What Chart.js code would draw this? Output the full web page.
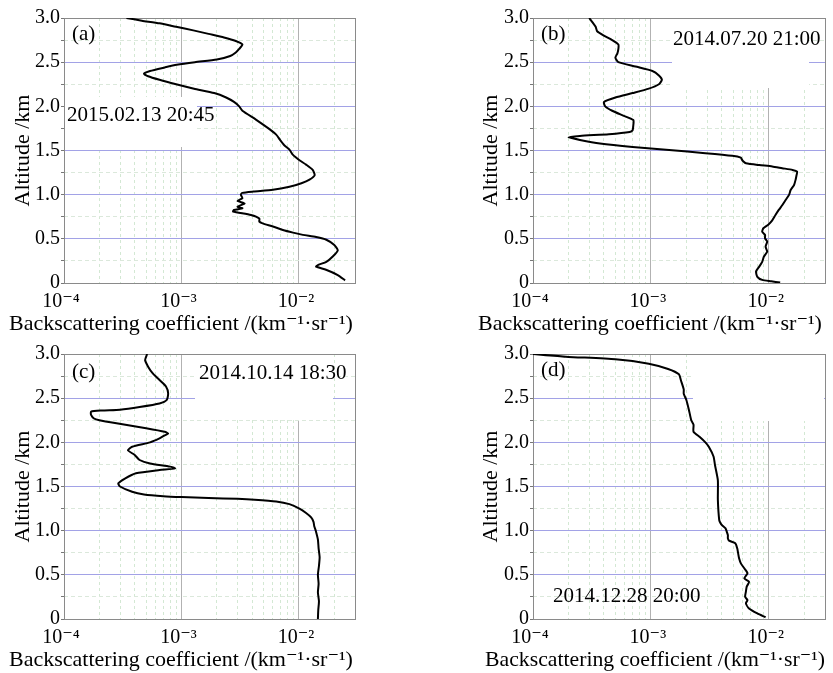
<!DOCTYPE html>
<html>
<head>
<meta charset="utf-8">
<script src="https://cdn.jsdelivr.net/npm/chart.js@4/dist/chart.umd.min.js"></script>
<style>
  html, body { margin: 0; padding: 0; background: #fff; }
  #wrap { position: relative; width: 833px; height: 673px; background: #fff; }
  #wrap canvas { position: absolute; }
</style>
</head>
<body>
<div id="wrap">
  <canvas id="pa" width="416" height="336" style="left:0;top:0"></canvas>
  <canvas id="pb" width="417" height="336" style="left:416px;top:0"></canvas>
  <canvas id="pc" width="416" height="337" style="left:0;top:336px"></canvas>
  <canvas id="pd" width="417" height="337" style="left:416px;top:336px"></canvas>
</div>
<script>
// altitude (km) and backscattering coefficient (km^-1 sr^-1)
const altA = [0.03, 0.09, 0.15, 0.185, 0.205, 0.24, 0.30, 0.37, 0.43, 0.49, 0.52, 0.545, 0.57, 0.60, 0.64, 0.675, 0.695, 0.73, 0.77, 0.81, 0.826, 0.845, 0.865, 0.90, 0.93, 0.96, 1.00, 1.02, 1.035, 1.055, 1.09, 1.13, 1.17, 1.22, 1.28, 1.34, 1.39, 1.45, 1.51, 1.56, 1.62, 1.68, 1.75, 1.85, 1.95, 2.00, 2.05, 2.10, 2.15, 2.20, 2.25, 2.30, 2.34, 2.37, 2.40, 2.44, 2.47, 2.50, 2.53, 2.57, 2.61, 2.65, 2.70, 2.74, 2.78, 2.82, 2.86, 2.90, 2.94, 2.97, 3.00];
const betaA = [0.0247, 0.0214, 0.0170, 0.0140, 0.0146, 0.0171, 0.0194, 0.0214, 0.0200, 0.0171, 0.0140, 0.0108, 0.0089, 0.0073, 0.0060, 0.0049, 0.0046, 0.0046, 0.0039, 0.00275, 0.0028, 0.0033, 0.0030, 0.00345, 0.0030, 0.0033, 0.0032, 0.0033, 0.0041, 0.0060, 0.0083, 0.0105, 0.0123, 0.0136, 0.0131, 0.0115, 0.0101, 0.0089, 0.0083, 0.0075, 0.0069, 0.0064, 0.0055, 0.0043, 0.0033, 0.0031, 0.0028, 0.0024, 0.0019, 0.00128, 0.00090, 0.00065, 0.00052, 0.00048, 0.00054, 0.00072, 0.00091, 0.0013, 0.0020, 0.0026, 0.0029, 0.0031, 0.0033, 0.0029, 0.0023, 0.0017, 0.00126, 0.00090, 0.00065, 0.00046, 0.00034];

const altB = [0.005, 0.02, 0.035, 0.07, 0.13, 0.185, 0.24, 0.30, 0.355, 0.41, 0.47, 0.505, 0.545, 0.58, 0.62, 0.66, 0.71, 0.77, 0.83, 0.88, 0.94, 1.00, 1.05, 1.11, 1.17, 1.22, 1.26, 1.28, 1.30, 1.32, 1.335, 1.355, 1.375, 1.40, 1.42, 1.44, 1.47, 1.505, 1.54, 1.58, 1.62, 1.65, 1.665, 1.685, 1.71, 1.73, 1.79, 1.845, 1.90, 1.95, 2.00, 2.05, 2.10, 2.15, 2.20, 2.25, 2.30, 2.35, 2.40, 2.45, 2.50, 2.55, 2.60, 2.65, 2.70, 2.75, 2.80, 2.85, 2.90, 2.95, 3.00];
const betaB = [0.0125, 0.0105, 0.0088, 0.0080, 0.0078, 0.0083, 0.0088, 0.0091, 0.0097, 0.0094, 0.0097, 0.0093, 0.0093, 0.0088, 0.0090, 0.0099, 0.0107, 0.0114, 0.0122, 0.0130, 0.0139, 0.0149, 0.0153, 0.0164, 0.0169, 0.0172, 0.0174, 0.0159, 0.0130, 0.0107, 0.0083, 0.0064, 0.0061, 0.0059, 0.0058, 0.0049, 0.0029, 0.00143, 0.00070, 0.00037, 0.00025, 0.00020, 0.00025, 0.00044, 0.00066, 0.00070, 0.00071, 0.00071, 0.00057, 0.00047, 0.00041, 0.00040, 0.00050, 0.00070, 0.00096, 0.00117, 0.00124, 0.00117, 0.00103, 0.00074, 0.00053, 0.00050, 0.00052, 0.00053, 0.00053, 0.00047, 0.00040, 0.00035, 0.00034, 0.00032, 0.00030];

const altC = [0.0, 0.1, 0.2, 0.3, 0.4, 0.5, 0.6, 0.7, 0.8, 0.9, 1.0, 1.05, 1.1, 1.15, 1.2, 1.25, 1.30, 1.33, 1.35, 1.36, 1.37, 1.38, 1.39, 1.41, 1.44, 1.50, 1.536, 1.59, 1.65, 1.687, 1.705, 1.725, 1.76, 1.80, 1.857, 1.91, 1.95, 2.00, 2.045, 2.07, 2.10, 2.12, 2.16, 2.215, 2.25, 2.27, 2.31, 2.347, 2.36, 2.37, 2.40, 2.44, 2.48, 2.555, 2.63, 2.705, 2.78, 2.857, 2.93, 3.00];
const betaC = [0.0145, 0.0146, 0.0148, 0.0145, 0.0147, 0.0145, 0.0148, 0.0150, 0.0147, 0.0145, 0.0139, 0.0135, 0.0133, 0.0127, 0.0115, 0.0101, 0.0083, 0.0064, 0.0042, 0.0030, 0.0017, 0.0010, 0.0007, 0.00048, 0.00038, 0.00030, 0.00029, 0.00033, 0.00041, 0.00065, 0.00088, 0.00080, 0.00054, 0.00044, 0.00040, 0.00035, 0.00038, 0.00054, 0.00065, 0.00070, 0.00077, 0.00072, 0.00050, 0.00028, 0.00020, 0.00018, 0.00017, 0.00017, 0.00021, 0.00030, 0.00044, 0.00065, 0.00075, 0.00077, 0.00074, 0.00065, 0.00057, 0.00052, 0.00049, 0.00051];

const altD = [0.02, 0.064, 0.12, 0.177, 0.215, 0.25, 0.31, 0.366, 0.42, 0.46, 0.517, 0.574, 0.63, 0.687, 0.743, 0.80, 0.857, 0.887, 0.913, 0.95, 0.99, 1.026, 1.064, 1.083, 1.12, 1.35, 1.57, 1.74, 1.84, 1.95, 2.00, 2.06, 2.12, 2.20, 2.25, 2.37, 2.48, 2.55, 2.60, 2.70, 2.77, 2.83, 2.89, 2.94, 2.97, 3.00];
const betaD = [0.0094, 0.0080, 0.0068, 0.0064, 0.0066, 0.0063, 0.0064, 0.0065, 0.0068, 0.0062, 0.0066, 0.0062, 0.0058, 0.0056, 0.0055, 0.0054, 0.0052, 0.0046, 0.0045, 0.0045, 0.0044, 0.0043, 0.0040, 0.0039, 0.0038, 0.0037, 0.0037, 0.0035, 0.0034, 0.0031, 0.0029, 0.0026, 0.0023, 0.0023, 0.0022, 0.0021, 0.0020, 0.0019, 0.0019, 0.00180, 0.00173, 0.0014, 0.00096, 0.00050, 0.00019, 0.0001];

const panelTags = ['(a)', '(b)', '(c)', '(d)'];
const panelDates = ['2015.02.13 20:45', '2014.07.20 21:00', '2014.10.14 18:30', '2014.12.28 20:00'];

const decadeTicks = [1e-4, 1e-3, 1e-2];
const decadeLabels = ['10\u207B\u2074', '10\u207B\u00B3', '10\u207B\u00B2'];
const mantissas = [1, 2, 3, 4, 5, 6, 7, 8, 9];
const xMin = 1e-4, xMax = 3e-2;
const yMin = 0, yMax = 3, yStep = 0.25;

const X_TITLE = 'Backscattering coefficient /(km\u207B\u00B9\u00B7sr\u207B\u00B9)';
const Y_TITLE = 'Altitude /km';

const SERIF = "'Liberation Serif', 'DejaVu Serif', serif";
Chart.defaults.font.family = SERIF;
Chart.defaults.color = '#000';

// per-panel placement (canvas pixels)
const layouts = [
  { pad: { left: 7, right: 61, top: 18, bottom: 0.6 }, yW: 57, yTitlePad: 5,
    tag: [72, 34], date: [67, 115], box: [65, 97, 132, 50] },
  { pad: { left: 59, right: 8, top: 18, bottom: 0.6 }, yW: 58, yTitlePad: 5,
    tag: [125, 34], date: [257, 39], box: [256, 19, 137, 69] },
  { pad: { left: 7, right: 61, top: 18, bottom: 1.6 }, yW: 57, yTitlePad: 5,
    tag: [72, 36], date: [199, 37.5], box: [195, 19, 138, 65] },
  { pad: { left: 69, right: 8, top: 18, bottom: 1.6 }, yW: 48, yTitlePad: -5,
    tag: [125, 34], date: [137, 260], box: [277, 19, 131, 66] },
];

const xTickValues = [];
decadeTicks.forEach(d => mantissas.forEach(m => {
  const v = m * d;
  if (v <= xMax * 1.0001) xTickValues.push(v);
}));

function isDecade(v) {
  const e = Math.log10(v);
  return Math.abs(e - Math.round(e)) < 1e-6;
}

function isHalf(v) {
  return Math.abs(v * 2 - Math.round(v * 2)) < 1e-6;
}

const panelDeco = {
  id: 'panelDeco',
  beforeDatasetsDraw(chart, args, opts) {
    const { ctx, chartArea: a } = chart;
    ctx.save();
    if (opts.box) {
      ctx.fillStyle = '#fff';
      ctx.fillRect(opts.box[0], opts.box[1], opts.box[2], opts.box[3]);
    }
    ctx.strokeStyle = '#8a8a8a';
    ctx.lineWidth = 1;
    ctx.strokeRect(Math.round(a.left) + 0.5, Math.round(a.top) + 0.5,
      Math.round(a.right - a.left), Math.round(a.bottom - a.top));
    ctx.restore();
  },
  afterDatasetsDraw(chart, args, opts) {
    const { ctx } = chart;
    ctx.save();
    ctx.fillStyle = '#000';
    ctx.font = '21px ' + SERIF;
    ctx.textBaseline = 'middle';
    ctx.textAlign = 'left';
    ctx.fillText(opts.tagText, opts.tag[0], opts.tag[1]);
    ctx.fillText(opts.dateText, opts.date[0], opts.date[1]);
    ctx.restore();
  }
};

function makeChart(canvasId, alt, beta, idx) {
  const L = layouts[idx];
  const points = alt.map((h, i) => ({ x: beta[i], y: h }));
  return new Chart(document.getElementById(canvasId), {
    type: 'scatter',
    data: {
      datasets: [{
        data: points,
        showLine: true,
        borderColor: '#000',
        borderWidth: 2,
        pointRadius: 0,
        tension: 0.2,
        fill: false,
      }],
    },
    options: {
      responsive: false,
      animation: false,
      layout: { padding: L.pad },
      scales: {
        x: {
          type: 'logarithmic',
          min: xMin,
          max: xMax,
          afterBuildTicks: s => { s.ticks = xTickValues.map(v => ({ value: v })); },
          afterFit: s => { s.height = 28; },
          ticks: {
            autoSkip: false,
            maxRotation: 0,
            padding: 7,
            labelOffset: -3,
            font: { size: 20 },
            callback: v => {
              const k = decadeTicks.findIndex(d => Math.abs(d - v) / d < 1e-6);
              return k >= 0 ? decadeLabels[k] : '';
            },
          },
          grid: {
            drawTicks: false,
            color: c => (c.tick && isDecade(c.tick.value)) ? '#b2b2b2' : '#d3e8d3',
          },
          border: {
            display: false,
            dash: c => (c.tick && !isDecade(c.tick.value)) ? [3, 3] : [],
          },
        },
        y: {
          min: yMin,
          max: yMax,
          afterFit: s => { s.width = L.yW; },
          ticks: {
            stepSize: yStep,
            autoSkip: false,
            padding: 1,
            font: { size: 20 },
            callback: v => v === 0 ? '0' : (isHalf(v) ? v.toFixed(1) : ''),
          },
          grid: {
            drawTicks: true,
            tickLength: 3,
            tickColor: '#777',
            color: c => (c.tick && isHalf(c.tick.value)) ? '#a2a2e6' : '#dbe8db',
          },
          border: {
            display: false,
            dash: c => (c.tick && !isHalf(c.tick.value)) ? [4, 3] : [],
          },
          title: {
            display: true,
            text: Y_TITLE,
            font: { size: 22, lineHeight: 1.0 },
            padding: { top: L.yTitlePad, bottom: 0 },
          },
        },
      },
      plugins: {
        legend: { display: false },
        tooltip: { enabled: false },
        title: {
          display: true,
          position: 'bottom',
          text: X_TITLE,
          font: { size: 22, lineHeight: 1.0, weight: 'normal' },
          padding: { top: 2.4, bottom: 0 },
          color: '#000',
        },
        panelDeco: {
          tagText: panelTags[idx],
          dateText: panelDates[idx],
          tag: L.tag,
          date: L.date,
          box: L.box,
        },
      },
    },
    plugins: [panelDeco],
  });
}

makeChart('pa', altA, betaA, 0);
makeChart('pb', altB, betaB, 1);
makeChart('pc', altC, betaC, 2);
makeChart('pd', altD, betaD, 3);
</script>
</body>
</html>
